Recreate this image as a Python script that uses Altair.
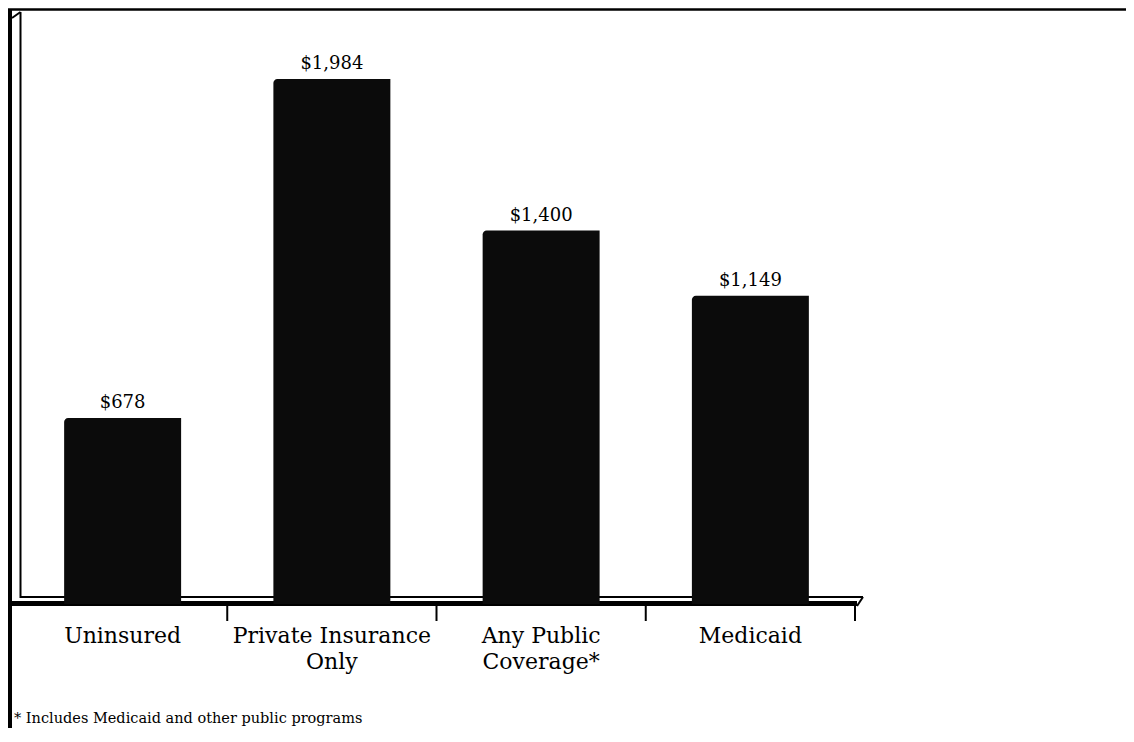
import json
import altair as alt
import pandas as pd

# ---- data ----
categories = ["Uninsured", "Private Insurance Only", "Any Public Coverage*", "Medicaid"]
label_lines = [["Uninsured"], ["Private Insurance", "Only"], ["Any Public", "Coverage*"], ["Medicaid"]]
values = [678, 1984, 1400, 1149]
footnote = "*  Includes Medicaid and other public programs"

df = pd.DataFrame({"category": categories, "value": values})

# ---- layout ----
W, H = 837, 592
Y_MIN, Y_MAX = -38.5, 2242
P_IN = 0.441
P_OUT = P_IN / 2
FONT = "DejaVu Serif"
STEP = W / (len(categories) - P_IN + 2 * P_OUT)

xscale = alt.Scale(domain=categories, paddingInner=P_IN, paddingOuter=P_OUT)
yscale = alt.Scale(domain=[Y_MIN, Y_MAX], nice=False, zero=False)

label_expr = " : ".join(
    f"datum.value == {json.dumps(c)} ? {json.dumps(l)}" for c, l in zip(categories, label_lines)
) + " : datum.value"

base = alt.Chart(df)

bars = base.mark_bar(color="#0b0b0b", cornerRadiusTopLeft=4).encode(
    x=alt.X("category:N", scale=xscale, sort=categories,
            axis=alt.Axis(title=None, domain=False, ticks=False, labelAngle=0,
                          labelAlign="center",
                          labelFont=FONT, labelFontSize=22, labelColor="#000",
                          labelPadding=31, labelLineHeight=26, labelLimit=400,
                          labelExpr=label_expr)),
    y=alt.Y("value:Q", scale=yscale, axis=None),
    y2=alt.datum(Y_MIN),
)

value_labels = base.mark_text(font=FONT, fontSize=18, color="#000", dy=-10,
                              baseline="alphabetic").encode(
    x=alt.X("category:N", scale=xscale, sort=categories),
    y=alt.Y("value:Q", scale=yscale),
    text=alt.Text("value:Q", format="$,.0f"),
)

# tick marks between categories (right edge of each band's gap)
ticks = base.mark_rule(color="#000", strokeWidth=2).encode(
    x=alt.X("category:N", scale=xscale, sort=categories),
    xOffset=alt.value(STEP * (1 - P_IN / 2)),
    y=alt.value(594),
    y2=alt.value(609),
)

one = alt.Chart(pd.DataFrame({"k": [0]}))

def seg(x1, y1, x2, y2, w):
    return one.mark_rule(color="#000", strokeWidth=w).encode(
        x=alt.value(x1), y=alt.value(y1), x2=alt.value(x2), y2=alt.value(y2))

frame_top = seg(-18, -2.5, 1120, -2.5, 2.5)
frame_left = seg(-8, -3, -8, 740, 4)
wall_inner = seg(2.5, 0, 2.5, 586, 2)
wall_diag = seg(-6, 6, 2.5, 0, 2)
floor_back = seg(3, 585, 845, 585, 2)
floor_front = seg(-6, 591.5, 839, 591.5, 5)
floor_end = seg(839, 594, 845, 585, 2)

note = one.mark_text(font=FONT, fontSize=14.5, color="#000", align="left",
                     baseline="alphabetic").encode(
    x=alt.value(-4), y=alt.value(711), text=alt.value(footnote))

chart = alt.layer(
    frame_top, frame_left, wall_inner, wall_diag, floor_back, floor_front, floor_end,
    ticks, bars, value_labels, note,
).properties(
    width=W, height=H,
    padding={"left": 10, "top": 4, "right": 271, "bottom": 124},
    autosize="none",
).configure(background="white").configure_view(stroke=None)

chart.save("out.html", embed_options={"renderer": "svg", "actions": False})
